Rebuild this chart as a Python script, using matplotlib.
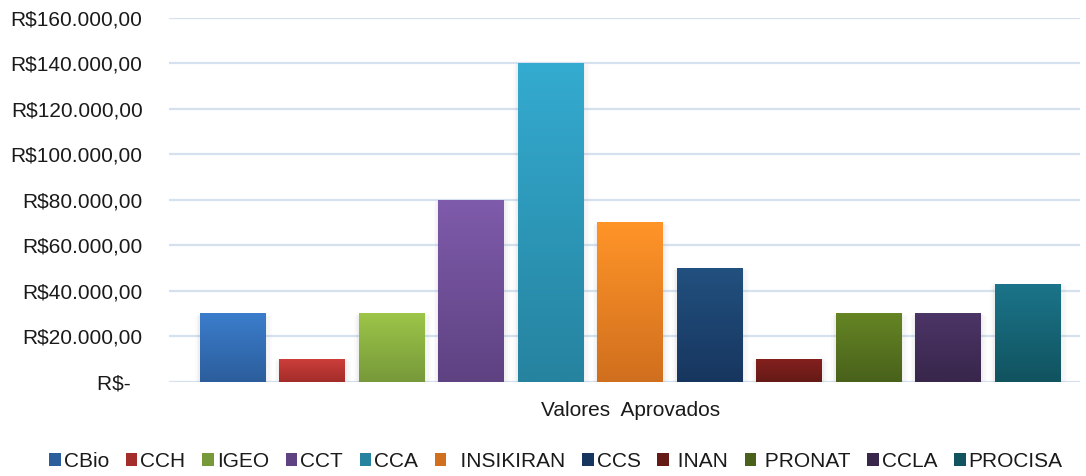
import matplotlib.pyplot as plt
import numpy as np
from matplotlib.patches import Patch, Rectangle
from matplotlib.colors import to_rgb
from matplotlib.ticker import FuncFormatter

plt.rcParams['font.family'] = ['Liberation Sans', 'DejaVu Sans']

# data
units = ['CBio', 'CCH', 'IGEO', 'CCT', 'CCA', 'INSIKIRAN',
         'CCS', 'INAN', 'PRONAT', 'CCLA', 'PROCISA']
legend_labels = ['CBio', 'CCH', 'IGEO', 'CCT', 'CCA', '  INSIKIRAN',
                 'CCS', ' INAN', ' PRONAT', 'CCLA', 'PROCISA']
values = [30000, 10000, 30000, 80000, 140000, 70000,
          50000, 10000, 30000, 30000, 43000]
category = 'Valores  Aprovados'

top_colors = ['#3b7dcc', '#cd3e3a', '#9cc548', '#7f5bab', '#34abd0', '#ff9428',
              '#22507f', '#84201e', '#658524', '#4c3567', '#1b748a']
bottom_colors = ['#2c5e9c', '#a22d2a', '#77993a', '#5e4282', '#2683a0', '#d06f1e',
                 '#17365f', '#651a16', '#49611b', '#38264b', '#11535f']


def fmt_brl(v, pos=None):
    if v == 0:
        return 'R$-  '
    s = f'{v:,.2f}'.replace(',', 'X').replace('.', ',').replace('X', '.')
    return 'R$' + s


fig = plt.figure(figsize=(10.86, 4.76), dpi=100)
ax = fig.add_axes([0.1556, 0.1975, 0.8389, 0.7647])

width = 0.82
n = len(values)
for i, (v, c1, c2) in enumerate(zip(values, top_colors, bottom_colors)):
    x0 = i - (n - 1) / 2 - width / 2
    # soft shadow
    for k, a in enumerate([0.05, 0.04, 0.03]):
        pad = 0.04 * (k + 1)
        ax.add_patch(Rectangle((x0 - pad * 0.5, -1200 * (k + 1)), width + pad * 1.2,
                               v + 1200 * (k + 1) - 400 * k, color='gray',
                               alpha=a, lw=0, zorder=2))
    grad = np.linspace(0, 1, 64)[:, None]
    rgb_top = np.array(to_rgb(c1))
    rgb_bot = np.array(to_rgb(c2))
    img = rgb_top[None, None, :] * (1 - grad[..., None]) + rgb_bot[None, None, :] * grad[..., None]
    ax.imshow(img, extent=(x0, x0 + width, 0, v), origin='upper',
              aspect='auto', zorder=3, interpolation='bilinear')

ax.set_xlim(-5.8, 5.66)
ax.set_ylim(0, 160000)
ax.set_yticks(np.arange(0, 160001, 20000))
ax.yaxis.set_major_formatter(FuncFormatter(fmt_brl))
ax.yaxis.grid(True, color='#d6e1f0', linewidth=1.6, zorder=0)
ax.set_axisbelow(True)
ax.set_xticks([0])
ax.set_xticklabels([category])
ax.tick_params(axis='both', length=0, labelsize=15, colors='#1a1a1a')
ax.tick_params(axis='y', pad=19)
ax.tick_params(axis='x', pad=14)
for s in ax.spines.values():
    s.set_visible(False)

handles = [Patch(facecolor=c, edgecolor='none') for c in bottom_colors]
fig.legend(handles, legend_labels, loc='center', bbox_to_anchor=(0.512, 0.031),
           ncol=n, frameon=False, fontsize=15, handlelength=0.55,
           handleheight=0.55, handletextpad=0.15, columnspacing=0.8,
           labelcolor='#1a1a1a')

fig.savefig('out.png', dpi=100)
